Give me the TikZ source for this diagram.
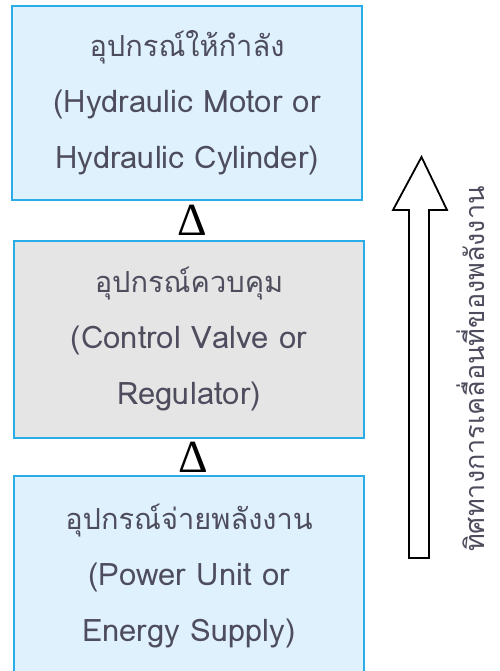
\documentclass[tikz,border=0pt]{standalone}
\usepackage{fontspec}
\setmainfont[Script=Thai]{Loma}
\newfontfamily\deltafont{Liberation Serif}
\usetikzlibrary{positioning}
\definecolor{boxblue}{HTML}{DFF1FC}
\definecolor{boxgray}{HTML}{E5E5E5}
\definecolor{edgeblue}{HTML}{2AACE6}
\definecolor{txt}{HTML}{4E4D5E}
\newcommand{\thline}[1]{{\fontsize{29}{56}\selectfont #1}}
\tikzset{
  block/.style={draw=edgeblue, line width=2pt, minimum width=350pt, align=center,
    text=txt, font=\fontsize{31}{56}\selectfont, inner sep=0pt},
  tri/.style={font=\deltafont\fontsize{46}{46}\selectfont, text=black, inner sep=0pt},
  flowarrow/.style={draw=black, line width=1.8pt, fill=white, line join=miter},
  vlabel/.style={rotate=90, text=txt, font=\fontsize{27}{30}\selectfont, inner sep=0pt}
}
\begin{document}
\begin{tikzpicture}[x=1pt,y=-1pt]
\useasboundingbox (0,0) rectangle (499,671);
\fill[white] (0,0) rectangle (499,671);
\node[block, fill=boxblue, minimum height=194pt] (top) at (187,103)
  {\thline{อุปกรณ์ให้กำลัง}\\(Hydraulic Motor or\\Hydraulic Cylinder)};
\node[block, fill=boxgray, minimum height=197pt] (mid) at (189,339.5)
  {\thline{อุปกรณ์ควบคุม}\\(Control Valve or\\Regulator)};
\node[block, fill=boxblue, minimum height=200pt] (bot) at (189,576)
  {\thline{อุปกรณ์จ่ายพลังงาน}\\(Power Unit or\\Energy Supply)};
\node[tri, anchor=base] (t1) at (192.5,235) {Δ};
\node[tri, anchor=base] (t2) at (193,472) {Δ};
\coordinate (tip) at (421.5,157);
\draw[flowarrow] (409,558) -- (409,210) -- (393,210) -- (tip) -- (447,210) -- (429,210) -- (429,558) -- cycle;
\node[vlabel] (lab) at (471,369) {ทิศทางการเคลื่อนที่ของพลังงาน};
\end{tikzpicture}
\end{document}
